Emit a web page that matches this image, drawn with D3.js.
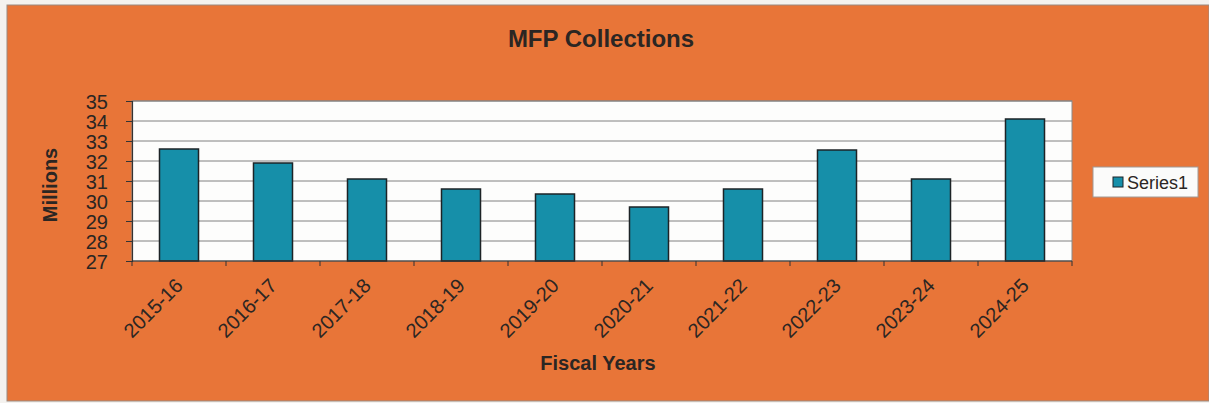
<!DOCTYPE html>
<html>
<head>
<meta charset="utf-8">
<script src="https://cdn.jsdelivr.net/npm/d3@7"></script>
<style>
  html, body { margin: 0; padding: 0; background: #f4f2ef; }
  svg { display: block; }
  text { font-family: Arial, "Liberation Sans", sans-serif; fill: #2b2623; }
</style>
</head>
<body>
<script>
// MFP collections by fiscal year, in millions
const fiscalYears = ["2015-16", "2016-17", "2017-18", "2018-19", "2019-20",
                     "2020-21", "2021-22", "2022-23", "2023-24", "2024-25"];
const collections = [32.6, 31.9, 31.1, 30.6, 30.35, 29.7, 30.6, 32.55, 31.1, 34.1];
const yTicks = [27, 28, 29, 30, 31, 32, 33, 34, 35];
const seriesName = "Series1";

const W = 1209, H = 403;
const plot = { left: 132, top: 101, right: 1072, bottom: 261 };

const svg = d3.select("body").append("svg")
  .attr("width", W).attr("height", H);

// Orange chart background
svg.append("rect")
  .attr("x", 7).attr("y", 5).attr("width", W - 7).attr("height", 396)
  .attr("fill", "#e87538").attr("stroke", "#9a8a80").attr("stroke-width", 1);

const x = d3.scaleBand()
  .domain(fiscalYears)
  .range([plot.left, plot.right])
  .paddingInner(0.585).paddingOuter(0.2925);

const y = d3.scaleLinear()
  .domain([27, 35])
  .range([plot.bottom, plot.top]);

// Plot area
svg.append("rect")
  .attr("x", plot.left).attr("y", plot.top)
  .attr("width", plot.right - plot.left).attr("height", plot.bottom - plot.top)
  .attr("fill", "#fdfdfc").attr("stroke", "#8a8a8a").attr("stroke-width", 1);

// Horizontal gridlines
svg.append("g").selectAll("line")
  .data(yTicks.filter(d => d > 27))
  .join("line")
  .attr("x1", plot.left).attr("x2", plot.right)
  .attr("y1", d => y(d)).attr("y2", d => y(d))
  .attr("stroke", "#808080").attr("stroke-width", 1);

// Bars
svg.append("g").selectAll("rect")
  .data(collections)
  .join("rect")
  .attr("x", (d, i) => x(fiscalYears[i]))
  .attr("y", d => y(d))
  .attr("width", x.bandwidth())
  .attr("height", d => y(27) - y(d))
  .attr("fill", "#168fa9")
  .attr("stroke", "#1d2326").attr("stroke-width", 1.5);

// Y axis
const yAxis = svg.append("g")
  .attr("transform", `translate(${plot.left},0)`)
  .call(d3.axisLeft(y).tickValues(yTicks).tickFormat(d3.format("d")).tickSize(6).tickPadding(18));
yAxis.select(".domain").attr("stroke", "#333").attr("stroke-width", 1.2);
yAxis.selectAll(".tick line").attr("stroke", "#333");
yAxis.selectAll(".tick text")
  .style("font-size", "20px").attr("fill", "#2b2623")
  .attr("dy", "0.36em");

// X axis: tick marks at category boundaries
const xAxisG = svg.append("g").attr("transform", `translate(0,${plot.bottom})`);
xAxisG.append("line")
  .attr("x1", plot.left).attr("x2", plot.right)
  .attr("stroke", "#333").attr("stroke-width", 1.2);
const step = x.step();
xAxisG.selectAll("line.tick")
  .data(d3.range(fiscalYears.length + 1))
  .join("line").attr("class", "tick")
  .attr("x1", i => plot.left + i * step).attr("x2", i => plot.left + i * step)
  .attr("y1", 0).attr("y2", 5)
  .attr("stroke", "#333");

xAxisG.selectAll("text")
  .data(fiscalYears)
  .join("text")
  .attr("transform", d => `translate(${x(d) + x.bandwidth() / 2 + 5},${26}) rotate(-45)`)
  .attr("text-anchor", "end")
  .style("font-size", "20px")
  .text(d => d);

// Titles
svg.append("text")
  .attr("x", 601).attr("y", 47)
  .attr("text-anchor", "middle")
  .style("font-size", "24px").style("font-weight", "bold")
  .text("MFP Collections");

svg.append("text")
  .attr("x", 598).attr("y", 370)
  .attr("text-anchor", "middle")
  .style("font-size", "20px").style("font-weight", "bold")
  .text("Fiscal Years");

svg.append("text")
  .attr("transform", "translate(57,185) rotate(-90)")
  .attr("text-anchor", "middle")
  .style("font-size", "20px").style("font-weight", "bold")
  .text("Millions");

// Legend
const legend = svg.append("g").attr("transform", "translate(1093,167)");
legend.append("rect")
  .attr("width", 105).attr("height", 30)
  .attr("fill", "#fbfbfa").attr("stroke", "#a09a95").attr("stroke-width", 1);
legend.append("rect")
  .attr("x", 20).attr("y", 10).attr("width", 10).attr("height", 10)
  .attr("fill", "#168fa9").attr("stroke", "#1d2326").attr("stroke-width", 1);
legend.append("text")
  .attr("x", 34).attr("y", 21.5)
  .style("font-size", "18px")
  .text(seriesName);
</script>
</body>
</html>
